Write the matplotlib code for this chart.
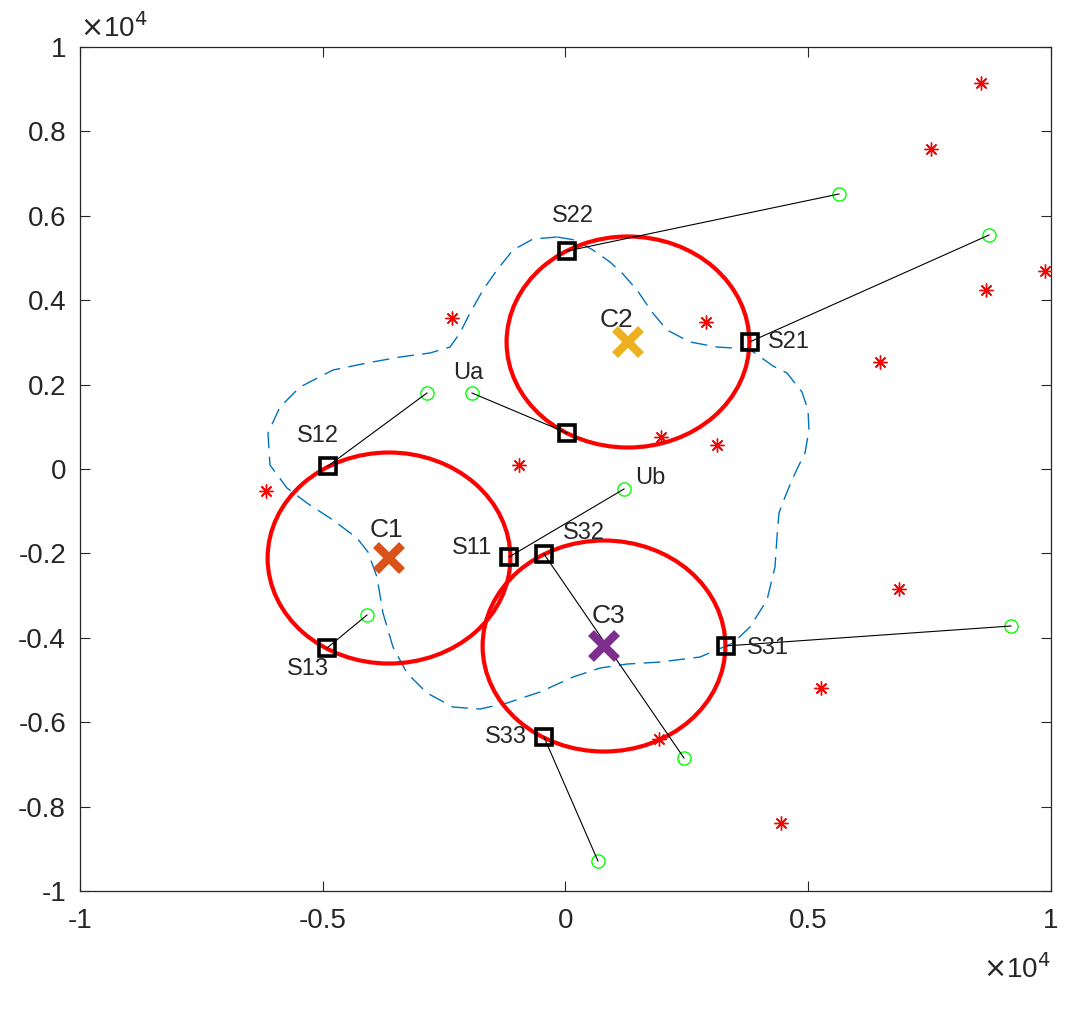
import matplotlib
matplotlib.use("Agg")
import matplotlib.pyplot as plt
from matplotlib.patches import Circle
from matplotlib.ticker import FixedLocator, FuncFormatter

plt.rcParams['font.family'] = ['Liberation Sans', 'DejaVu Sans']

# ---- data (real units) ----
star_x = [8558, 7526, 9876, 8661, 6478, 2895, -2338, 1967, 3120, -958, -6169, 6869, 5263, 1925, 4439]
star_y = [9147, 7583, 4704, 4242, 2536, 3484, 3578, 758, 569, 95, -521, -2844, -5190, -6398, -8388]

user_x = [5633, 8723, -2853, -1926, 1205, -4089, 9176, 2441, 669]
user_y = [6517, 5545, 1801, 1801, -474, -3460, -3720, -6849, -9289]

# serving square for each user (same order as users)
sq_names = ["S22", "S21", "S12", "", "S11", "S13", "S31", "S32", "S33"]
sq_x = [31, 3790, -4892, 31, -1164, -4913, 3306, -443, -443]
sq_y = [5166, 3010, 71, 853, -2085, -4242, -4192, -2014, -6351]

center_names = ["C1", "C2", "C3"]
center_x = [-3635, 1287, 793]
center_y = [-2109, 3010, -4194]
center_colors = ["#D95319", "#EDB120", "#7E2F8E"]
radius = 2500

user_names = {3: "Ua", 4: "Ub"}

boundary_x = [-175, -669, -1081, -1411, -1699, -1967, -2173, -2379, -2791, -3409, -4089, -4789,
              -5468, -5880, -6128, -6087, -5736, -5324, -4789, -4295, -4068, -3883, -3759, -3553,
              -3265, -2853, -2317, -1761, -1205, -525, 154, 711, 1267, 1946, 2770, 3450, 3800,
              4150, 4315, 4356, 4397, 4521, 4665, 4789, 4933, 5015, 4995, 4871, 4562, 4274, 3780,
              3120, 2564, 2090, 1782, 1473, 1164, 917, 566, 196, -175]
boundary_y = [5498, 5450, 5190, 4716, 4242, 3697, 3223, 2891, 2749, 2654, 2512, 2346,
              1943, 1469, 853, 95, -450, -806, -1209, -1635, -1967, -2559, -3412, -4218,
              -4834, -5308, -5640, -5687, -5545, -5284, -4929, -4716, -4621, -4574, -4455, -4123, -3744,
              -3104, -2322, -1611, -1043, -664, -261, 47, 379, 924, 1398, 1825, 2275, 2441, 2844,
              2891, 3010, 3294, 3720, 4242, 4645, 4905, 5190, 5427, 5498]

x_ticks = [-10000, -5000, 0, 5000, 10000]
y_ticks = [-10000, -8000, -6000, -4000, -2000, 0, 2000, 4000, 6000, 8000, 10000]

# label offsets in pixels (dx, dy, ha)
sq_label_off = {"S22": (6, 35, "center"), "S21": (18, 0, "left"), "S12": (-10, 30, "center"),
                "S11": (-17, 9, "right"), "S13": (-19, -21, "center"), "S32": (19, 21, "left"),
                "S31": (21, -2, "left"), "S33": (-17, 0, "right")}
center_label_off = {"C1": (-3, 28), "C2": (-11, 22), "C3": (4, 30)}
user_label_off = {"Ua": (-4, 20, "center"), "Ub": (11, 11, "left")}

fig = plt.figure(figsize=(10.88, 10.13), dpi=100)
ax = fig.add_axes([0.0735, 0.1204, 0.8925, 0.8332])

ax.plot(star_x, star_y, linestyle='none', marker=(8, 2, 0), markersize=10,
        markeredgewidth=1.0, color='#FF0000', zorder=3)

ax.plot(boundary_x, boundary_y, linestyle=(0, (12, 6)), color='#0072BD', linewidth=1.0, zorder=2)

for cx, cy in zip(center_x, center_y):
    ax.add_patch(Circle((cx, cy), radius, fill=False, edgecolor='#FF0000', linewidth=3, zorder=4))

for ux, uy, sx, sy in zip(user_x, user_y, sq_x, sq_y):
    ax.plot([sx, ux], [sy, uy], color='black', linewidth=0.8, zorder=6)

ax.plot(user_x, user_y, linestyle='none', marker='o', markersize=9.5, markerfacecolor='none',
        markeredgecolor='#00FF00', markeredgewidth=1.0, zorder=5)

ax.plot(sq_x, sq_y, linestyle='none', marker='s', markersize=12, markerfacecolor='none',
        markeredgecolor='black', markeredgewidth=2.6, zorder=5)

for cx, cy, col in zip(center_x, center_y, center_colors):
    ax.plot([cx], [cy], linestyle='none', marker='x', markersize=19, markeredgewidth=6,
            color=col, zorder=7)

txt_color = '#262626'
for name, sx, sy in zip(sq_names, sq_x, sq_y):
    if not name:
        continue
    dx, dy, ha = sq_label_off[name]
    ax.annotate(name, (sx, sy), xytext=(dx, dy), textcoords='offset pixels', ha=ha, va='center',
                fontsize=17, color=txt_color, zorder=8)
for name, cx, cy in zip(center_names, center_x, center_y):
    dx, dy = center_label_off[name]
    ax.annotate(name, (cx, cy), xytext=(dx, dy), textcoords='offset pixels', ha='center', va='center',
                fontsize=19, color=txt_color, zorder=8)
for i, name in user_names.items():
    dx, dy, ha = user_label_off[name]
    ax.annotate(name, (user_x[i], user_y[i]), xytext=(dx, dy), textcoords='offset pixels', ha=ha,
                va='center', fontsize=17, color=txt_color, zorder=8)

ax.set_xlim(-10000, 10000)
ax.set_ylim(-10000, 10000)
fmt = FuncFormatter(lambda v, p: ('%g' % (v / 10000)))
ax.xaxis.set_major_locator(FixedLocator(x_ticks))
ax.yaxis.set_major_locator(FixedLocator(y_ticks))
ax.xaxis.set_major_formatter(fmt)
ax.yaxis.set_major_formatter(fmt)
ax.tick_params(direction='in', length=7, width=0.8, colors=txt_color, labelsize=20,
               top=True, right=True, labeltop=False, labelright=False)
ax.tick_params(axis='x', pad=12)
ax.tick_params(axis='y', pad=10)
for s in ax.spines.values():
    s.set_color(txt_color)
    s.set_linewidth(0.9)

ax.text(0.0, 1.005, r'$\times$10$^4$', transform=ax.transAxes, ha='left', va='bottom',
        fontsize=20, color=txt_color)
ax.text(1.0, -0.075, r'$\times$10$^4$', transform=ax.transAxes, ha='right', va='top',
        fontsize=20, color=txt_color)

fig.savefig('out.png', dpi=100)
